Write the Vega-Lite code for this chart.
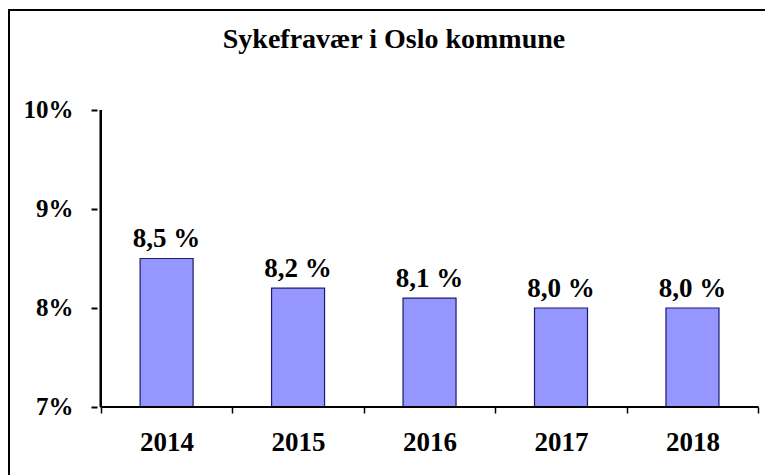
{
  "$schema": "https://vega.github.io/schema/vega-lite/v6.json",
  "autosize": "none",
  "padding": {"left": 9, "top": 10, "right": 0, "bottom": 0},
  "width": 770,
  "height": 470,
  "background": "white",
  "config": {
    "locale": {"number": {"decimal": ",", "thousands": " ", "grouping": [3], "currency": ["", " kr"], "percent": " %"}},
    "view": {"stroke": "#000", "strokeWidth": 2},
    "font": "Liberation Serif"
  },
  "title": {
    "text": "Sykefravær i Oslo kommune",
    "orient": "top",
    "anchor": "middle",
    "frame": "group",
    "baseline": "alphabetic",
    "offset": -38,
    "dy": 28,
    "fontSize": 28,
    "fontWeight": "bold",
    "font": "Liberation Serif",
    "color": "#000"
  },
  "data": {
    "values": [
      {"year": 2014, "rate": 0.085},
      {"year": 2015, "rate": 0.082},
      {"year": 2016, "rate": 0.081},
      {"year": 2017, "rate": 0.080},
      {"year": 2018, "rate": 0.080}
    ]
  },
  "layer": [
    {
      "mark": {"type": "bar", "size": 53, "fill": "#9696ff", "stroke": "#1a1a6e", "strokeWidth": 1.2},
      "encoding": {
        "x": {
          "field": "year",
          "type": "quantitative",
          "scale": {"domain": [2012.8393, 2018.6201], "nice": false, "zero": false},
          "axis": {
            "title": null,
            "values": [2013.5, 2014, 2014.5, 2015, 2015.5, 2016, 2016.5, 2017, 2017.5, 2018, 2018.5],
            "offset": -73,
            "domain": false,
            "grid": false,
            "tickSize": 6,
            "tickWidth": 1.5,
            "tickColor": "#000",
            "tickOpacity": {"condition": {"test": "datum.value % 1 === 0", "value": 0}, "value": 1},
            "labelExpr": "datum.value % 1 === 0 ? '' + datum.value : ''",
            "labelFont": "Liberation Serif",
            "labelFontSize": 27,
            "labelFontWeight": "bold",
            "labelColor": "#000",
            "labelPadding": 16,
            "labelOverlap": false,
            "labelFlush": false,
            "labelBound": false
          }
        },
        "y": {
          "field": "rate",
          "type": "quantitative",
          "scale": {"domain": [0.062626, 0.110101], "nice": false, "zero": false},
          "axis": {
            "title": null,
            "values": [0.07, 0.08, 0.09, 0.10],
            "offset": -88,
            "domain": false,
            "grid": false,
            "tickSize": 6,
            "tickWidth": 2,
            "tickColor": "#000",
            "labelExpr": "round(datum.value * 100) + '%'",
            "labelFont": "Liberation Serif",
            "labelFontSize": 25,
            "labelFontWeight": "bold",
            "labelColor": "#000",
            "labelPadding": 18,
            "labelOverlap": false,
            "labelBound": false
          }
        },
        "y2": {"datum": 0.07}
      }
    },
    {
      "mark": {"type": "text", "dy": -11, "baseline": "alphabetic", "fontSize": 27, "fontWeight": "bold", "font": "Liberation Serif", "color": "#000"},
      "encoding": {
        "x": {"field": "year", "type": "quantitative"},
        "y": {"field": "rate", "type": "quantitative"},
        "text": {"field": "rate", "type": "quantitative", "format": ".1%"}
      }
    },
    {
      "mark": {"type": "rule", "strokeWidth": 2, "color": "#000"},
      "encoding": {
        "x": {"datum": 2013.5, "type": "quantitative"},
        "y": {"datum": 0.07, "type": "quantitative"},
        "y2": {"datum": 0.10}
      }
    },
    {
      "mark": {"type": "rule", "strokeWidth": 2, "color": "#000"},
      "encoding": {
        "x": {"datum": 2013.5, "type": "quantitative"},
        "x2": {"datum": 2018.5},
        "y": {"datum": 0.07, "type": "quantitative"}
      }
    }
  ]
}
